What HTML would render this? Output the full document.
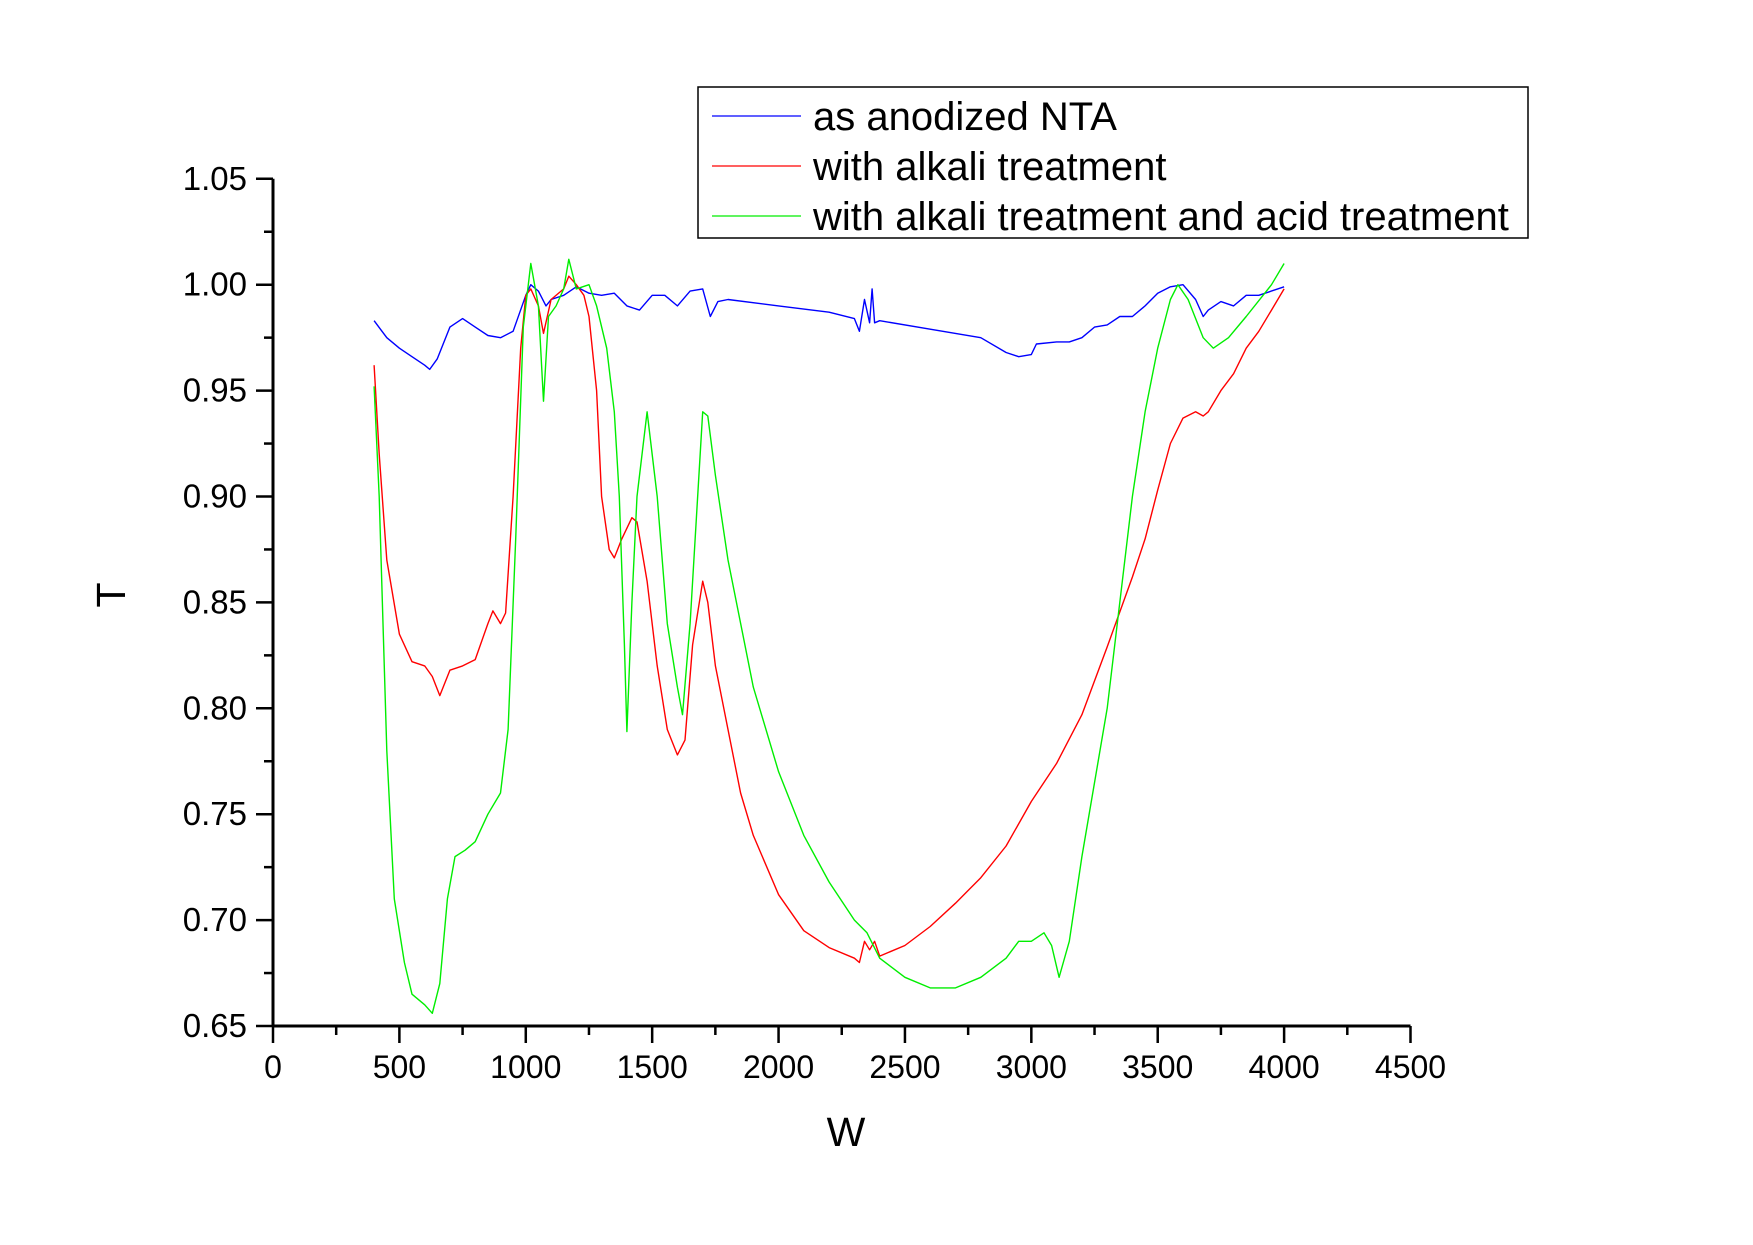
<!DOCTYPE html>
<html><head><meta charset="utf-8"><style>
html,body{margin:0;padding:0;background:#fff}
svg text{font-family:"Liberation Sans",Arial,sans-serif;fill:#000}
</style></head><body>
<svg id="chart" width="1753" height="1240" viewBox="0 0 1753 1240" xmlns="http://www.w3.org/2000/svg">
<rect width="1753" height="1240" fill="#fff"/>
<g id="plot"></g>
<g id="axes"></g>
<g>
<rect x="698" y="87" width="830" height="151" fill="#fff" stroke="#000" stroke-width="1.5"/>
<line x1="712" y1="116" x2="801" y2="116" stroke="#0000ff" stroke-width="1.3"/>
<text x="813" y="130" font-size="40">as anodized NTA</text>
<line x1="712" y1="166" x2="801" y2="166" stroke="#ff0000" stroke-width="1.3"/>
<text x="813" y="180" font-size="40">with alkali treatment</text>
<line x1="712" y1="216" x2="801" y2="216" stroke="#00ee00" stroke-width="1.3"/>
<text x="813" y="230" font-size="40">with alkali treatment and acid treatment</text>
</g>
<text x="846" y="1146" font-size="41" text-anchor="middle">W</text>
<text x="0" y="0" font-size="41" text-anchor="middle" transform="translate(125,595) rotate(-90)">T</text>
</svg>
<script>
const xTicks=[0,500,1000,1500,2000,2500,3000,3500,4000,4500];
const yTicks=[0.65,0.70,0.75,0.80,0.85,0.90,0.95,1.00,1.05];
const yTickLabels=["0.65","0.70","0.75","0.80","0.85","0.90","0.95","1.00","1.05"];
const blueW=[400,450,500,550,600,620,650,700,750,800,850,900,950,1000,1020,1050,1080,1100,1150,1200,1250,1300,1350,1400,1450,1500,1550,1600,1650,1700,1730,1760,1800,2000,2200,2300,2320,2340,2360,2370,2380,2400,2600,2800,2900,2950,3000,3020,3100,3150,3200,3250,3300,3350,3400,3450,3500,3550,3600,3650,3680,3700,3750,3800,3850,3900,4000];
const blueT=[0.983,0.975,0.970,0.966,0.962,0.960,0.965,0.980,0.984,0.980,0.976,0.975,0.978,0.995,1.000,0.997,0.990,0.993,0.995,0.999,0.996,0.995,0.996,0.990,0.988,0.995,0.995,0.990,0.997,0.998,0.985,0.992,0.993,0.990,0.987,0.984,0.978,0.993,0.982,0.998,0.982,0.983,0.979,0.975,0.968,0.966,0.967,0.972,0.973,0.973,0.975,0.980,0.981,0.985,0.985,0.990,0.996,0.999,1.000,0.993,0.985,0.988,0.992,0.990,0.995,0.995,0.999];
const redW=[400,420,450,500,550,600,630,660,700,750,800,850,870,900,920,950,980,1000,1020,1050,1070,1100,1150,1170,1200,1230,1250,1280,1300,1330,1350,1380,1420,1440,1480,1520,1560,1600,1630,1660,1700,1720,1750,1800,1850,1900,2000,2100,2200,2300,2320,2340,2360,2380,2400,2500,2600,2700,2800,2900,3000,3100,3200,3300,3400,3450,3500,3550,3600,3650,3680,3700,3750,3800,3850,3900,3950,4000];
const redT=[0.962,0.92,0.87,0.835,0.822,0.820,0.815,0.806,0.818,0.820,0.823,0.840,0.846,0.840,0.845,0.900,0.970,0.995,0.998,0.990,0.977,0.993,0.998,1.004,1.000,0.995,0.985,0.950,0.900,0.875,0.871,0.880,0.890,0.888,0.860,0.820,0.790,0.778,0.785,0.830,0.860,0.850,0.820,0.790,0.760,0.740,0.712,0.695,0.687,0.682,0.680,0.690,0.686,0.690,0.683,0.688,0.697,0.708,0.720,0.735,0.756,0.774,0.797,0.829,0.862,0.880,0.903,0.925,0.937,0.940,0.938,0.940,0.950,0.958,0.970,0.978,0.988,0.998];
const greenW=[400,420,450,480,520,550,600,630,660,690,720,760,800,850,900,930,960,990,1020,1050,1070,1090,1120,1150,1170,1200,1250,1280,1320,1350,1370,1390,1400,1420,1440,1480,1520,1560,1600,1620,1650,1700,1720,1750,1800,1900,2000,2100,2200,2300,2350,2400,2500,2600,2700,2800,2900,2950,3000,3050,3080,3110,3150,3200,3300,3400,3450,3500,3550,3580,3620,3680,3720,3780,3850,3950,4000];
const greenT=[0.952,0.90,0.78,0.71,0.68,0.665,0.660,0.656,0.670,0.710,0.730,0.733,0.737,0.750,0.760,0.790,0.880,0.980,1.010,0.990,0.945,0.985,0.990,0.998,1.012,0.998,1.000,0.990,0.970,0.940,0.900,0.830,0.789,0.850,0.900,0.940,0.900,0.840,0.810,0.797,0.840,0.940,0.938,0.910,0.870,0.810,0.770,0.740,0.718,0.700,0.694,0.682,0.673,0.668,0.668,0.673,0.682,0.690,0.690,0.694,0.688,0.673,0.690,0.730,0.800,0.900,0.940,0.970,0.993,1.000,0.993,0.975,0.970,0.975,0.985,1.000,1.010];

const X0=273,XPX=1137.5/4500,Y0=1026,YPX=105.9/0.05;
function xs(w){return X0+w*XPX;}
function ys(t){return Y0-(t-0.65)*YPX;}
const NS="http://www.w3.org/2000/svg";
function mk(tag,attrs,parent){const e=document.createElementNS(NS,tag);for(const k in attrs)e.setAttribute(k,attrs[k]);parent.appendChild(e);return e;}
const plot=document.getElementById('plot'),axes=document.getElementById('axes');
function series(W,T,color,name){
  const d=W.map((w,i)=>(i?'L':'M')+xs(w).toFixed(1)+' '+ys(T[i]).toFixed(1)).join(' ');
  const p=mk('path',{d:d,fill:'none',stroke:color,'stroke-width':1.4,'stroke-linejoin':'round'},plot);
  
  
}
series(blueW,blueT,'#0000ff','series-as-anodized');
series(redW,redT,'#ff0000','series-alkali');
series(greenW,greenT,'#00ee00','series-alkali-acid');

const xa=mk('line',{x1:xs(0),y1:Y0,x2:xs(4500),y2:Y0,stroke:'#000','stroke-width':3},axes);


const ya=mk('line',{x1:X0,y1:Y0,x2:X0,y2:ys(1.05),stroke:'#000','stroke-width':3},axes);


for(let i=0;i<xTicks.length;i++){
  const x=xs(xTicks[i]);
  mk('line',{x1:x,y1:Y0,x2:x,y2:Y0+17,stroke:'#000','stroke-width':2.5},axes);
  if(i<xTicks.length-1){const xm=xs(xTicks[i]+250);mk('line',{x1:xm,y1:Y0,x2:xm,y2:Y0+9,stroke:'#000','stroke-width':2.5},axes);}
  const t=mk('text',{x:x,y:1078,'font-size':32,'text-anchor':'middle'},axes);
  t.textContent=String(xTicks[i]);
  
  
}
for(let i=0;i<yTicks.length;i++){
  const y=ys(yTicks[i]);
  mk('line',{x1:X0-17,y1:y,x2:X0,y2:y,stroke:'#000','stroke-width':2.5},axes);
  if(i<yTicks.length-1){const ym=ys(yTicks[i]+0.025);mk('line',{x1:X0-9,y1:ym,x2:X0,y2:ym,stroke:'#000','stroke-width':2.5},axes);}
  const t=mk('text',{x:247,y:y+11,'font-size':33,'text-anchor':'end'},axes);
  t.textContent=yTickLabels[i];
  
  
}
</script>
</body></html>
